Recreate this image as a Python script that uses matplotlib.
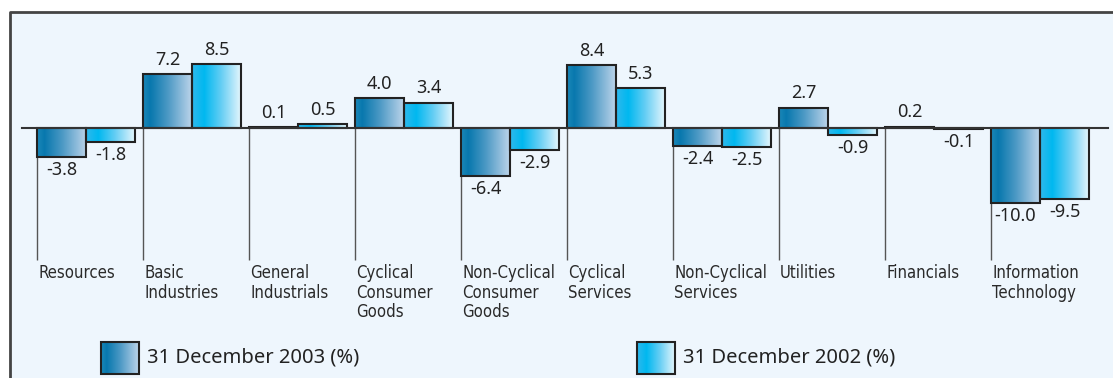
import numpy as np
from matplotlib import pyplot as plt
from matplotlib.colors import LinearSegmentedColormap
from matplotlib.patches import Rectangle

# sector returns, two year-ends
categories = ["Resources", "Basic\nIndustries", "General\nIndustrials",
              "Cyclical\nConsumer\nGoods", "Non-Cyclical\nConsumer\nGoods",
              "Cyclical\nServices", "Non-Cyclical\nServices", "Utilities",
              "Financials", "Information\nTechnology"]
dec_2003 = [-3.8, 7.2, 0.1, 4.0, -6.4, 8.4, -2.4, 2.7, 0.2, -10.0]
dec_2002 = [-1.8, 8.5, 0.5, 3.4, -2.9, 5.3, -2.5, -0.9, -0.1, -9.5]
series_names = ["31 December 2003 (%)", "31 December 2002 (%)"]

W, H = 1113, 378
BG = "#eef6fd"
dark_cmap = LinearSegmentedColormap.from_list(
    "dark", [(0, "#1c88b8"), (0.15, "#0878ae"), (0.5, "#4a98c4"), (1.0, "#bcd4ea")])
cyan_cmap = LinearSegmentedColormap.from_list(
    "cyan", [(0, "#30b8ec"), (0.25, "#00b8f0"), (0.6, "#66cef4"), (1.0, "#e4f6fd")])
grad = np.linspace(0, 1, 256).reshape(1, -1)

fig = plt.figure(figsize=(W / 100, H / 100), dpi=100)
ax = fig.add_axes([0, 0, 1, 1])
ax.set_axis_off()

# pixel layout: zero line at y=128, 7.5 px per unit, 106 px per category
unit_px = 7.5
cat_px = 106
ylim = ((128 - H) / unit_px, 128 / unit_px)
xlim = (-37 / cat_px, (W - 37) / cat_px)

# panel background and frame
ax.add_patch(Rectangle((10 / W, 0), 1, 1 - 12 / H, transform=ax.transAxes,
                       facecolor=BG, edgecolor="none", zorder=0))
ax.plot([10 / W, 10 / W, 1], [0, 1 - 12 / H, 1 - 12 / H], transform=ax.transAxes,
        color="#444444", lw=2, zorder=1, clip_on=False)

x = np.arange(len(categories))
bw = 49 / cat_px


def gradient_bars(xpos, vals, cmap):
    bars = ax.bar(xpos, vals, bw, align="edge", facecolor="none",
                  edgecolor="#222222", linewidth=1.5, zorder=4)
    for b in bars:
        x0, y0 = b.get_x(), b.get_y()
        ax.imshow(grad, cmap=cmap, aspect="auto", zorder=3,
                  extent=(x0, x0 + b.get_width(), y0, y0 + b.get_height()))
    return bars


gradient_bars(x, dec_2003, dark_cmap)
gradient_bars(x + bw, dec_2002, cyan_cmap)

# value labels
for xs, vals in ((x, dec_2003), (x + bw, dec_2002)):
    for xi, v in zip(xs, vals):
        off = 0.7 if v >= 0 else -0.55
        ax.text(xi + bw / 2, v + off, f"{v:.1f}", ha="center",
                va="bottom" if v >= 0 else "top", fontsize=13,
                family="Noto Sans", color="#222222", zorder=5)

# separators and category names
ax.vlines(x, (128 - 260) / unit_px, 0, color="#555555", lw=1, zorder=2)
for xi, name in zip(x, categories):
    ax.text(xi + 0.01, (128 - 264) / unit_px, name, ha="left", va="top",
            fontsize=12, family="DejaVu Sans", fontstretch="condensed",
            color="#2a2a2a", linespacing=1.12, zorder=5)

ax.axhline(0, xmin=22 / W, xmax=1108 / W, color="#333333", lw=1.5, zorder=5)

# legend
for (px, cmap), label in zip(((101, dark_cmap), (637, cyan_cmap)), series_names):
    x0, x1 = px / W, (px + 38) / W
    y0, y1 = 1 - 374 / H, 1 - 342 / H
    ax.imshow(grad, cmap=cmap, aspect="auto", extent=(x0, x1, y0, y1),
              transform=ax.transAxes, zorder=3)
    ax.add_patch(Rectangle((x0, y0), x1 - x0, y1 - y0, transform=ax.transAxes,
                           facecolor="none", edgecolor="#222222", lw=1.5, zorder=4))
    ax.text((px + 46) / W, 1 - 358 / H, label, transform=ax.transAxes,
            ha="left", va="center", fontsize=14.5, family="Noto Sans",
            color="#222222", zorder=5)

ax.set_xlim(*xlim)
ax.set_ylim(*ylim)

fig.savefig("out.png", dpi=100, facecolor="white")
